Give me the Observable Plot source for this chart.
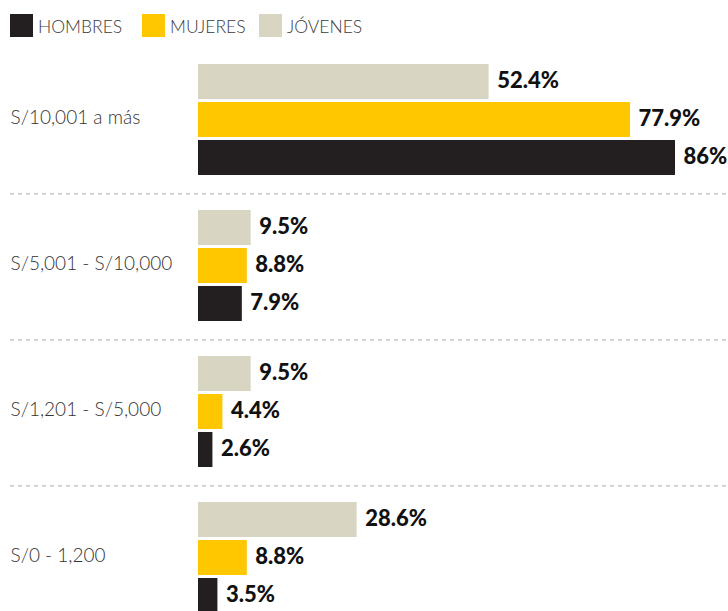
<!DOCTYPE html>
<html>
<head>
<meta charset="utf-8">
<script src="https://cdn.jsdelivr.net/npm/d3@7"></script>
<script src="https://cdn.jsdelivr.net/npm/@observablehq/plot@0.6"></script>
<style>
  html, body { margin: 0; padding: 0; background: #fff; overflow: hidden; }
  #legend { height: 44px; position: relative; font-family: Lato, "Open Sans", sans-serif; font-weight: 300; font-size: 17.5px; color: #3a3a3a; }
  .item { position: absolute; top: 14px; display: flex; align-items: center; height: 23px; }
  .sw { width: 23px; height: 23px; margin-right: 5px; }
  .item span { position: relative; top: 1px; }
  #chart svg { display: block; }
</style>
</head>
<body>
<div id="legend"></div>
<div id="chart"></div>
<script>
const categories = ["S/10,001 a más", "S/5,001 - S/10,000", "S/1,201 - S/5,000", "S/0 - 1,200"];
const series = ["Jóvenes", "Mujeres", "Hombres"];
const legendLabels = ["HOMBRES", "MUJERES", "JÓVENES"];
const hombres = [86, 7.9, 2.6, 3.5];
const mujeres = [77.9, 8.8, 4.4, 8.8];
const jovenes = [52.4, 9.5, 9.5, 28.6];
const colors = {"Jóvenes": "#d8d6c2", "Mujeres": "#ffc700", "Hombres": "#231f20"};

const values = {"Jóvenes": jovenes, "Mujeres": mujeres, "Hombres": hombres};
const data = categories.flatMap((c, i) => series.map(s => ({category: c, series: s, value: values[s][i]})));

// Legend
const legend = document.getElementById("legend");
const legendSeries = ["Hombres", "Mujeres", "Jóvenes"];
const legendX = [10, 142, 259];
legendSeries.forEach((s, i) => {
  const it = document.createElement("div");
  it.className = "item";
  it.style.left = legendX[i] + "px";
  it.innerHTML = `<div class="sw" style="background:${colors[s]}"></div><span>${legendLabels[i]}</span>`;
  legend.appendChild(it);
});

const fmt = d => `${d}%`;

const chart = Plot.plot({
  width: 728,
  height: 586,
  marginLeft: 198,
  marginRight: 53,
  marginTop: 1,
  marginBottom: 0,
  style: {fontFamily: "Lato, 'Open Sans', sans-serif", background: "#fff"},
  x: {domain: [0, d3.max(data, d => d.value)], axis: null},
  y: {domain: series, paddingInner: 0.08, paddingOuter: 0.415, axis: null},
  fy: {domain: categories, padding: 0, axis: null},
  color: {domain: series, range: series.map(s => colors[s])},
  marks: [
    Plot.ruleY(categories.slice(1), {
      fy: d => d, y: () => "Jóvenes", dy: -34.1,
      insetLeft: -188, insetRight: -53,
      stroke: "#bdbdbd", strokeWidth: 1.2, strokeDasharray: "4,4"
    }),
    Plot.barX(data, {x: "value", y: "series", fy: "category", fill: d => colors[d.series]}),
    Plot.text(data, {
      x: "value", y: "series", fy: "category", text: d => fmt(d.value),
      dx: 8, dy: -1, textAnchor: "start", fontSize: 22, fontWeight: 900, fill: "#111"
    }),
    Plot.text(categories, {
      fy: d => d, text: d => d, frameAnchor: "left", dx: -188, dy: -2, textAnchor: "start",
      fontSize: 19, fontWeight: 300, fill: "#333"
    })
  ]
});
document.getElementById("chart").appendChild(chart);
</script>
</body>
</html>
